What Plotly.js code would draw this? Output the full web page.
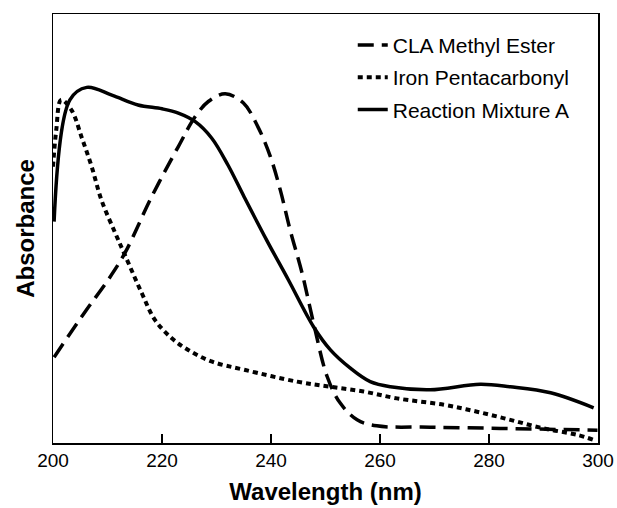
<!DOCTYPE html>
<html>
<head>
<meta charset="utf-8">
<script src="https://cdn.plot.ly/plotly-3.0.1.min.js"></script>
<style>html,body{margin:0;padding:0;background:#fff}#chart{width:617px;height:508px}</style>
</head>
<body>
<div id="chart"></div>
<script>
// Wavelength (nm) and absorbance (arbitrary units, 0-100)
const claWavelength = [200.2, 205.9, 210.1, 213.2, 218.1, 223.0, 226.1, 228.5, 231.6, 234.9, 237.6, 239.9, 241.7, 243.5, 245.7, 247.8, 250.3, 252.7, 255.8, 259.4, 269.2, 282.1, 299.9];
const claAbsorbance = [20.0, 30.6, 38.0, 44.3, 57.4, 69.1, 76.1, 79.6, 81.4, 79.3, 73.7, 66.7, 59.0, 49.7, 39.6, 28.0, 15.5, 9.3, 5.4, 4.0, 3.7, 3.4, 3.0];

const ironWavelength = [200.0, 200.6, 201.5, 203.4, 205.3, 207.1, 208.9, 211.4, 213.2, 216.3, 218.7, 221.8, 224.8, 229.1, 235.3, 244.8, 250.9, 257.0, 263.1, 271.7, 277.8, 283.9, 290.0, 296.2, 299.2];
const ironAbsorbance = [64.4, 73.0, 80.0, 77.6, 71.1, 64.4, 56.6, 49.0, 43.8, 34.9, 28.7, 24.4, 21.7, 19.0, 17.0, 14.3, 13.1, 12.0, 10.4, 8.9, 7.3, 5.4, 3.4, 1.9, 0.7];

const mixWavelength = [200.2, 203.1, 206.2, 210.8, 215.6, 220.0, 223.0, 226.1, 229.1, 232.1, 235.1, 239.2, 243.2, 247.8, 250.9, 254.5, 258.2, 261.9, 269.2, 278.4, 283.9, 291.3, 299.2];
const mixAbsorbance = [51.6, 80.0, 82.9, 81.1, 78.8, 77.9, 76.9, 74.9, 71.1, 64.8, 57.3, 47.3, 38.0, 27.1, 21.7, 17.5, 14.3, 13.1, 12.4, 13.7, 13.1, 11.7, 8.2];

const seriesNames = ['CLA Methyl Ester', 'Iron Pentacarbonyl', 'Reaction Mixture A'];
const xTickVals = [200, 220, 240, 260, 280, 300];
const xTickText = ['200', '220', '240', '260', '280', '300'];

const FONT = 'Liberation Sans, Arial, Helvetica, sans-serif';

const traces = [
  {x: claWavelength, y: claAbsorbance, name: seriesNames[0], legendgroup: 'a', mode: 'lines',
   line: {color: '#000', width: 3.5, dash: '16px,8px', shape: 'spline', smoothing: 1}},
  {x: ironWavelength, y: ironAbsorbance, name: seriesNames[1], legendgroup: 'b', mode: 'lines',
   line: {color: '#000', width: 4, dash: '5px,4px', shape: 'spline', smoothing: 1}},
  {x: mixWavelength, y: mixAbsorbance, name: seriesNames[2], legendgroup: 'c', mode: 'lines',
   line: {color: '#000', width: 3.5, shape: 'spline', smoothing: 1}}
];

const layout = {
  width: 617, height: 508,
  margin: {l: 53, r: 19, t: 14, b: 65},
  paper_bgcolor: '#fff', plot_bgcolor: '#fff',
  font: {family: FONT, color: '#000'},
  showlegend: true,
  legend: {x: 0.55, y: 0.975, xanchor: 'left', yanchor: 'top', bgcolor: 'rgba(0,0,0,0)',
           font: {size: 21, family: FONT, color: '#000'}, traceorder: 'grouped', tracegroupgap: 2},
  xaxis: {
    range: [200, 300], tickmode: 'array', tickvals: xTickVals, ticktext: xTickText,
    ticks: 'inside', ticklen: 9, tickwidth: 1.5, tickcolor: '#000',
    showline: true, linecolor: '#000', linewidth: 1.5, mirror: true,
    showgrid: false, zeroline: false,
    tickfont: {size: 19, family: FONT, color: '#000'},
    title: {text: '<b>Wavelength (nm)</b>', font: {size: 24, family: FONT, color: '#000'}, standoff: 13}
  },
  yaxis: {
    range: [0, 100], showticklabels: false, ticks: '',
    showline: true, linecolor: '#000', linewidth: 1.5, mirror: true,
    showgrid: false, zeroline: false,
    title: {text: '<b>Absorbance</b>', font: {size: 24, family: FONT, color: '#000'}, standoff: 10}
  }
};

Plotly.newPlot('chart', traces, layout, {displayModeBar: false, staticPlot: true});
</script>
</body>
</html>
